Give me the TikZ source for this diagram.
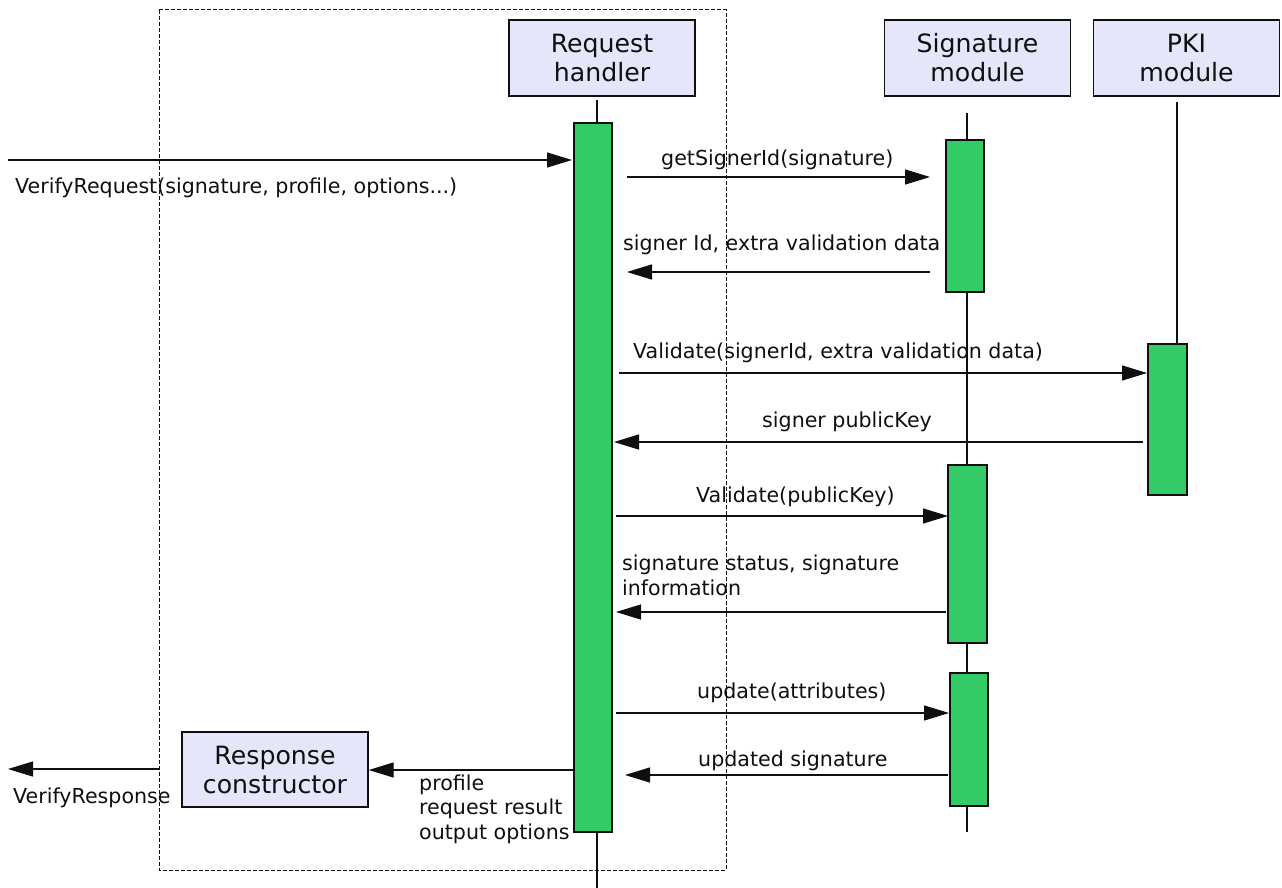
\documentclass[tikz,border=0pt]{standalone}
\usepackage{fontspec}
\setmainfont{DejaVu Sans}
\usetikzlibrary{arrows.meta}
\definecolor{boxfill}{RGB}{230,230,250}
\definecolor{barfill}{RGB}{52,203,102}
\definecolor{ink}{RGB}{15,15,15}

\begin{document}
\begin{tikzpicture}[x=1pt,y=-1pt,
  actor/.style={draw=ink, line width=1.3pt, fill=boxfill, minimum width=186pt,
    minimum height=76pt, inner sep=0pt, align=center, text=ink,
    font=\fontsize{25.2}{29}\selectfont},
  bar/.style={draw=ink, line width=1.3pt, fill=barfill, minimum width=38pt, inner sep=0pt},
  life/.style={ink, line width=1.3pt},
  msg/.style={ink, line width=1.3pt, -{Triangle[length=25pt,width=15pt]}},
  lbl/.style={anchor=base west, inner sep=0pt, text=ink, align=left,
    font=\fontsize{20.6}{24.5}\selectfont},
  frame/.style={ink, line width=1pt, dash pattern=on 4pt off 2pt}]

\useasboundingbox (0,0) rectangle (1282,888);

% component boundary
\draw[frame] (159,10) rectangle (726,870);

% participants
\node[actor] (rh)  at (602,58)    {Request\\handler};
\node[actor] (sig) at (977.5,58)  {Signature\\module};
\node[actor] (pki) at (1186.5,58) {PKI\\module};
\node[actor, minimum height=75pt] (rc) at (275,769.5) {Response\\constructor};

% lifelines
\coordinate (rhtop) at (597,100);  \coordinate (rhend) at (597,888);
\coordinate (sigtop) at (967,113); \coordinate (sigend) at (967,832);
\coordinate (pkitop) at (1177,102); \coordinate (pkiend) at (1177,344);
\draw[life] (rhtop) -- (rhend);
\draw[life] (sigtop) -- (sigend);
\draw[life] (pkitop) -- (pkiend);

% activation bars
\node[bar, minimum height=709pt] (rhbar) at (593,477.5) {};
\node[bar, minimum height=152pt] (sbar1) at (965,216) {};
\node[bar, minimum width=39pt, minimum height=178pt] (sbar2) at (967.5,554) {};
\node[bar, minimum height=133pt] (sbar3) at (969,739.5) {};
\node[bar, minimum width=39pt, minimum height=151pt] (pbar) at (1167.5,419.5) {};

% message end points
\coordinate (inL) at (8,160);     \coordinate (inR) at (572,160);
\coordinate (m1a) at (627,177);   \coordinate (m1b) at (930,177);
\coordinate (m2a) at (930,272);   \coordinate (m2b) at (627,272);
\coordinate (m3a) at (619,373);   \coordinate (m3b) at (1147,373);
\coordinate (m4a) at (1143,442);  \coordinate (m4b) at (614,442);
\coordinate (m5a) at (616,516);   \coordinate (m5b) at (948,516);
\coordinate (m6a) at (946,612);   \coordinate (m6b) at (616,612);
\coordinate (m7a) at (616,713);   \coordinate (m7b) at (949,713);
\coordinate (m8a) at (948,775);   \coordinate (m8b) at (625,775);
\coordinate (m9a) at (574,770);
\coordinate (outR) at (159,769);  \coordinate (outL) at (8,769);

% messages
\draw[msg] (inL) -- (inR);
\draw[msg] (m1a) -- (m1b);
\draw[msg] (m2a) -- (m2b);
\draw[msg] (m3a) -- (m3b);
\draw[msg] (m4a) -- (m4b);
\draw[msg] (m5a) -- (m5b);
\draw[msg] (m6a) -- (m6b);
\draw[msg] (m7a) -- (m7b);
\draw[msg] (m8a) -- (m8b);
\draw[msg] (m9a) -- (rc.east |- m9a);
\draw[msg] (outR) -- (outL);

% message labels (multi-line labels sit on their last baseline)
\node[lbl] (tIn) at (15,193)  {VerifyRequest(signature, profile, options...)};
\node[lbl] (t1)  at (661,165) {getSignerId(signature)};
\node[lbl] (t2)  at (623,250) {signer Id, extra validation data};
\node[lbl] (t3)  at (633,358) {Validate(signerId, extra validation data)};
\node[lbl] (t4)  at (762,427) {signer publicKey};
\node[lbl] (t5)  at (696,502) {Validate(publicKey)};
\node[lbl] (t6)  at (622,595) {signature status, signature\\information};
\node[lbl] (t7)  at (697,698) {update(attributes)};
\node[lbl] (t8)  at (698,766) {updated signature};
\node[lbl] (t9)  at (419,839) {profile\\request result\\output options};
\node[lbl] (tOut) at (13,803) {VerifyResponse};
\end{tikzpicture}
\end{document}
